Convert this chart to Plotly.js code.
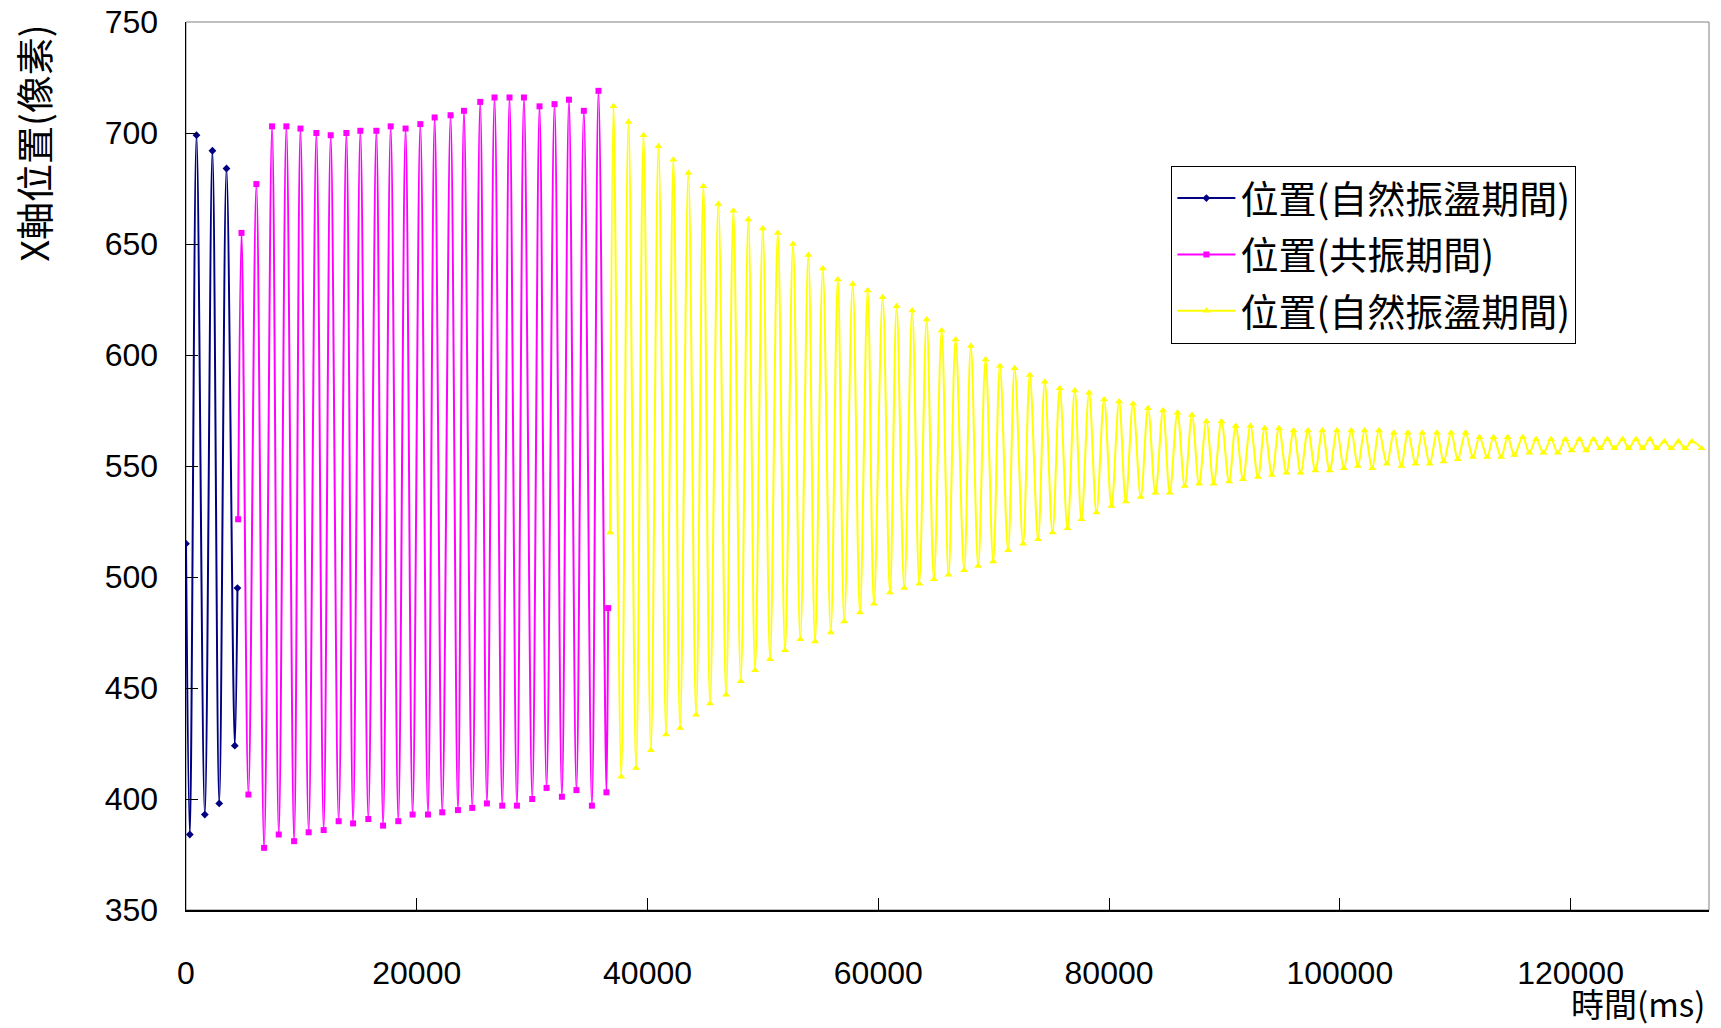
<!DOCTYPE html>
<html>
<head>
<meta charset="utf-8">
<script src="https://cdn.plot.ly/plotly-3.0.1.min.js"></script>
<style>html,body{margin:0;padding:0;background:#fff;}</style>
</head>
<body>
<div id="chart" style="width:1721px;height:1028px;"></div>
<script>
// 位置(自然振盪期間) — first free oscillation (time ms, x position px)
const navyT = [0, 330, 910, 1630, 2290, 2880, 3510, 4230, 4460];
const navyY = [515, 384, 699, 393, 692, 398, 684, 424, 495];

// 位置(共振期間) — resonance period
const pinkT = [4520, 4810, 5410, 6100, 6770, 7460, 8040, 8700, 9370, 9920,
  10630, 11300, 11930, 12540, 13230, 13900, 14480, 15110, 15800, 16500,
  17080, 17740, 18400, 19030, 19640, 20310, 20970, 21550, 22210, 22930,
  23570, 24090, 24810, 25500, 26080, 26740, 27410, 28040, 28680, 29290,
  30010, 30640, 31250, 31940, 32580, 33190, 33840, 34480, 35180, 35750,
  36440, 36590];
const pinkY = [526, 655, 402, 677, 378, 703, 384, 703, 381, 702,
  385, 700, 386, 699, 390, 700, 389, 701, 391, 701,
  388, 703, 390, 702, 393, 704, 393, 707, 394, 708,
  395, 710, 396, 714, 398, 716, 397, 716, 397, 716,
  400, 712, 405, 713, 401, 715, 404, 710, 397, 719,
  403, 486];

// 位置(自然振盪期間) — free (decaying) oscillation after resonance
const yellowT = [36760, 37050, 37720, 38350, 39010, 39650, 40290, 40950, 41610, 42240,
  42820, 43540, 44210, 44840, 45420, 46140, 46810, 47440, 48080, 48740,
  49320, 49990, 50620, 51290, 51920, 52610, 53240, 53940, 54520, 55190,
  55880, 56490, 57050, 57780, 58410, 59080, 59620, 60380, 61010, 61590,
  62250, 62940, 63550, 64190, 64820, 65490, 66090, 66700, 67440, 68020,
  68660, 69300, 69960, 70540, 71250, 71820, 72550, 73130, 73850, 74430,
  75100, 75730, 76400, 77030, 77610, 78270, 78910, 79570, 80210, 80870,
  81450, 82080, 82750, 83380, 84020, 84680, 85260, 85930, 86560, 87190,
  87800, 88440, 89070, 89740, 90400, 90980, 91610, 92250, 92910, 93490,
  94120, 94730, 95370, 96000, 96610, 97240, 97880, 98490, 99120, 99750,
  100360, 100990, 101570, 102150, 102810, 103390, 104080, 104690, 105330, 105900,
  106570, 107150, 107790, 108420, 109000, 109650, 110230, 110900, 111530, 112110,
  112770, 113320, 113980, 114550, 115130, 115850, 116430, 117010, 117650, 118310,
  118890, 119550, 120100, 120770, 121350, 121980, 122560, 123180, 123790, 124510,
  125030, 125670, 126240, 126880, 127470, 128130, 128720, 129350, 129930, 130510,
  131350];
const yellowY = [520, 712, 410, 705, 414, 699, 422, 694, 429, 688,
  432, 682, 438, 676, 443, 668, 447, 665, 453, 661,
  458, 657, 463, 655, 467, 650, 472, 645, 471, 639,
  475, 634, 480, 632, 484, 629, 488, 626, 493, 622,
  495, 620, 497, 616, 499, 611, 501, 607, 503, 604,
  505, 598, 507, 595, 512, 594, 515, 591, 517, 588,
  520, 585, 522, 584, 526, 583, 529, 580, 532, 579,
  534, 578, 536, 576, 538, 575, 538, 574, 541, 573,
  542, 570, 542, 570, 543, 568, 544, 568, 545, 567,
  546, 567, 547, 566, 547, 566, 548, 566, 548, 566,
  549, 566, 550, 566, 549, 566, 551, 565, 550, 565,
  551, 565, 551, 565, 552, 565, 553, 565, 554, 563,
  554, 563, 554, 563, 555, 563, 556, 562, 556, 562,
  556, 562, 557, 562, 557, 562, 558, 562, 558, 562,
  558, 562, 558, 562, 558, 561, 558, 561, 558, 561,
  558];

const seriesNames = ['位置(自然振盪期間)', '位置(共振期間)', '位置(自然振盪期間)'];
const xTitle = '時間(ms)';
const yTitle = 'X軸位置(像素)';

const cjk = '"Noto Sans CJK TC", "Noto Sans CJK SC", sans-serif';
const latin = '"Liberation Sans", Arial, sans-serif';

const traces = [
  {x: navyT, y: navyY, name: seriesNames[0], legendgroup: 'a', mode: 'lines+markers',
   line: {color: '#000080', width: 2, shape: 'spline', smoothing: 1},
   marker: {symbol: 'diamond', size: 6, color: '#000080'}},
  {x: pinkT, y: pinkY, name: seriesNames[1], legendgroup: 'b', mode: 'lines+markers',
   line: {color: '#FF00FF', width: 2, shape: 'spline', smoothing: 1},
   marker: {symbol: 'square', size: 6, color: '#FF00FF'}},
  {x: yellowT, y: yellowY, name: seriesNames[2], legendgroup: 'c', mode: 'lines+markers',
   line: {color: '#FFFF00', width: 2, shape: 'spline', smoothing: 1},
   marker: {symbol: 'triangle-up', size: 7, color: '#FFFF00'}}
];

const layout = {
  width: 1721, height: 1028,
  margin: {l: 186, r: 12, t: 22, b: 118, pad: 0},
  paper_bgcolor: '#ffffff', plot_bgcolor: '#ffffff',
  showlegend: true,
  font: {family: latin, color: '#000'},
  xaxis: {
    range: [0, 132000], tick0: 0, dtick: 20000, tickformat: 'd', ticks: 'inside', ticklen: 12,
    tickcolor: '#000', tickwidth: 1, showline: true, linecolor: '#000', linewidth: 1.5,
    showgrid: false, zeroline: false, tickfont: {family: latin, size: 32, color: '#000'},
    ticklabelstandoff: 34, fixedrange: true
  },
  yaxis: {
    range: [350, 750], tick0: 350, dtick: 50, tickformat: 'd', ticks: 'inside', ticklen: 12,
    tickcolor: '#000', tickwidth: 1, showline: true, linecolor: '#000', linewidth: 1.5,
    showgrid: false, zeroline: false, tickfont: {family: latin, size: 32, color: '#000'},
    ticklabelstandoff: 20, fixedrange: true
  },
  legend: {
    x: 0.647, y: 0.838, xanchor: 'left', yanchor: 'top',
    bgcolor: '#ffffff', bordercolor: '#000', borderwidth: 1,
    itemwidth: 58,
    font: {family: cjk, size: 38, color: '#000'}, tracegroupgap: 4
  },
  shapes: [
    {type: 'rect', xref: 'paper', yref: 'paper', x0: 0, x1: 1, y0: 0, y1: 1,
     line: {color: '#808080', width: 1}, layer: 'below'}
  ],
  annotations: [
    {text: xTitle, xref: 'paper', yref: 'paper', x: 0.999, y: -0.1045,
     xanchor: 'right', yanchor: 'middle', showarrow: false,
     font: {family: cjk, size: 33, color: '#000'}},
    {text: yTitle, xref: 'paper', yref: 'paper', x: -0.101, y: 0.863,
     xanchor: 'center', yanchor: 'middle', textangle: -90, showarrow: false,
     font: {family: cjk, size: 38, color: '#000'}}
  ]
};

Plotly.newPlot('chart', traces, layout, {staticPlot: true, displayModeBar: false});
</script>
</body>
</html>
